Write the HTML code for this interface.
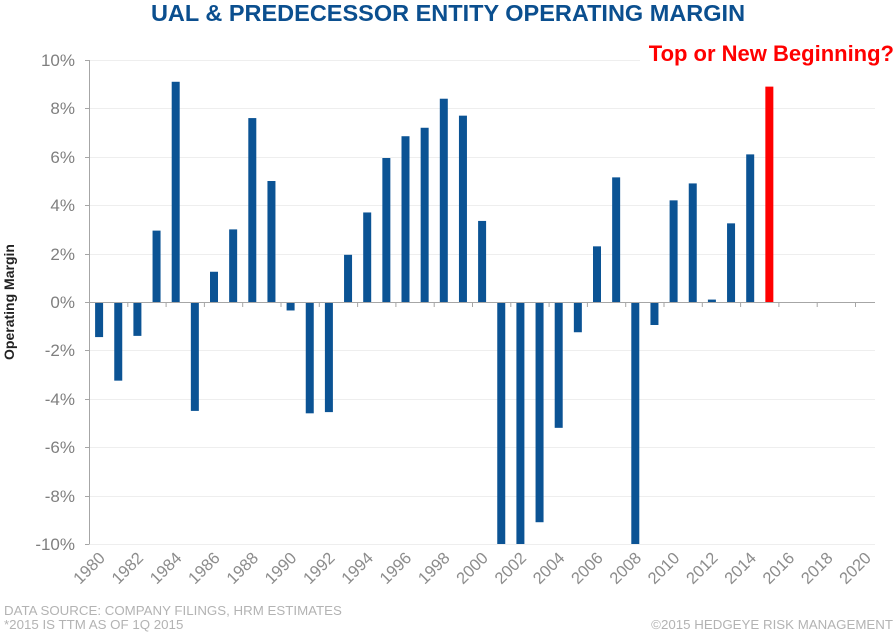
<!DOCTYPE html>
<html><head><meta charset="utf-8"><style>
body{margin:0;background:#fff;}
svg{display:block;font-family:"Liberation Sans",Arial,sans-serif;}
</style></head><body>
<svg id="c" width="896" height="632" viewBox="0 0 896 632">
<text x="448" y="21" text-anchor="middle" font-size="23.5" font-weight="bold" fill="#0b4f8f">UAL &amp; PREDECESSOR ENTITY OPERATING MARGIN</text>
<g stroke="#eeeeee" stroke-width="1">
<line x1="90" x2="875" y1="60.5" y2="60.5"/><line x1="90" x2="875" y1="108.5" y2="108.5"/><line x1="90" x2="875" y1="157.5" y2="157.5"/><line x1="90" x2="875" y1="205.5" y2="205.5"/><line x1="90" x2="875" y1="254.5" y2="254.5"/><line x1="90" x2="875" y1="350.5" y2="350.5"/><line x1="90" x2="875" y1="399.5" y2="399.5"/><line x1="90" x2="875" y1="447.5" y2="447.5"/><line x1="90" x2="875" y1="496.5" y2="496.5"/><line x1="90" x2="875" y1="544.5" y2="544.5"/>
</g>
<rect x="640" y="40" width="256" height="25" fill="#fff"/>
<text x="894" y="61" text-anchor="end" font-size="22" font-weight="bold" fill="#ff0000">Top or New Beginning?</text>
<g font-size="17" fill="#7f7f7f" text-anchor="end">
<text x="75" y="66">10%</text><text x="75" y="114">8%</text><text x="75" y="163">6%</text><text x="75" y="211">4%</text><text x="75" y="260">2%</text><text x="75" y="308">0%</text><text x="75" y="356">-2%</text><text x="75" y="405">-4%</text><text x="75" y="453">-6%</text><text x="75" y="502">-8%</text><text x="75" y="550">-10%</text>
</g>
<text transform="translate(14,302) rotate(-90)" text-anchor="middle" font-size="14" font-weight="bold" fill="#222">Operating Margin</text>
<g id="bars"></g>
<g stroke="#a6a6a6" stroke-width="1">
<line x1="89.5" y1="60" x2="89.5" y2="544"/>
<line x1="89.5" y1="302.5" x2="875" y2="302.5"/>
</g>
<g id="ticks" stroke="#a6a6a6"></g>
<g font-size="16.5" fill="#8c8c8c" text-anchor="end">
<text transform="translate(106,559) rotate(-45)">1980</text>
<text transform="translate(144.3,559) rotate(-45)">1982</text>
<text transform="translate(182.6,559) rotate(-45)">1984</text>
<text transform="translate(220.9,559) rotate(-45)">1986</text>
<text transform="translate(259.2,559) rotate(-45)">1988</text>
<text transform="translate(297.5,559) rotate(-45)">1990</text>
<text transform="translate(335.8,559) rotate(-45)">1992</text>
<text transform="translate(374.1,559) rotate(-45)">1994</text>
<text transform="translate(412.4,559) rotate(-45)">1996</text>
<text transform="translate(450.7,559) rotate(-45)">1998</text>
<text transform="translate(489,559) rotate(-45)">2000</text>
<text transform="translate(527.3,559) rotate(-45)">2002</text>
<text transform="translate(565.6,559) rotate(-45)">2004</text>
<text transform="translate(603.9,559) rotate(-45)">2006</text>
<text transform="translate(642.2,559) rotate(-45)">2008</text>
<text transform="translate(680.5,559) rotate(-45)">2010</text>
<text transform="translate(718.8,559) rotate(-45)">2012</text>
<text transform="translate(757.1,559) rotate(-45)">2014</text>
<text transform="translate(795.4,559) rotate(-45)">2016</text>
<text transform="translate(833.7,559) rotate(-45)">2018</text>
<text transform="translate(872,559) rotate(-45)">2020</text>
</g>
<g font-size="13.3" fill="#b3b3b3">
<text x="4" y="615">DATA SOURCE: COMPANY FILINGS, HRM ESTIMATES</text>
<text x="4" y="629">*2015 IS TTM AS OF 1Q 2015</text>
<text x="893" y="629" text-anchor="end">©2015 HEDGEYE RISK MANAGEMENT</text>
</g>
</svg>
<script>
var v=[-1.45,-3.25,-1.4,2.95,9.1,-4.5,1.25,3.0,7.6,5.0,-0.35,-4.6,-4.55,1.95,3.7,5.95,6.85,7.2,8.4,7.7,3.35,-10,-10,-9.1,-5.2,-1.25,2.3,5.15,-10,-0.95,4.2,4.9,0.1,3.25,6.1,8.9];
var ns="http://www.w3.org/2000/svg",g=document.getElementById("bars"),t=document.getElementById("ticks");
v.forEach(function(d,i){var r=document.createElementNS(ns,"rect");var h=Math.abs(d)*24.2;
r.setAttribute("x",95.1+19.15*i);r.setAttribute("width",8);
r.setAttribute("y",d>=0?302-h:302);r.setAttribute("height",h);
r.setAttribute("fill",i==35?"#ff0000":"#0b5394");g.appendChild(r);});
for(var k=1;k<=20;k++){var l=document.createElementNS(ns,"line");var x=89.5+38.3*k;
l.setAttribute("x1",x);l.setAttribute("x2",x);l.setAttribute("y1",302);l.setAttribute("y2",307);t.appendChild(l);}
var yl=[60,108,157,205,254,302,350,399,447,496,544];yl.forEach(function(y){var l=document.createElementNS(ns,"line");
l.setAttribute("x1",85);l.setAttribute("x2",89.5);l.setAttribute("y1",y+0.5);l.setAttribute("y2",y+0.5);t.appendChild(l);});
</script>
</body></html>
